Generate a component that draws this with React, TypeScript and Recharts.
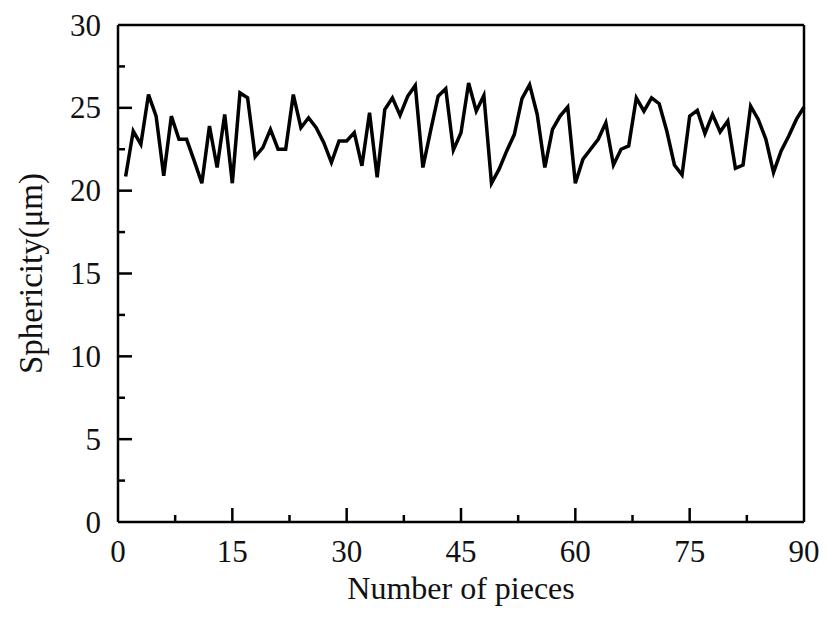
import { LineChart, Line, XAxis, YAxis, ReferenceLine } from 'recharts';

const sphericity = [
  20.85, 23.6, 22.8, 25.8, 24.5, 20.9, 24.5, 23.1, 23.1, 21.8,
  20.45, 23.9, 21.4, 24.6, 20.45, 25.9, 25.6, 22.05, 22.6, 23.7,
  22.5, 22.5, 25.8, 23.8, 24.4, 23.8, 22.9, 21.7, 23.0, 23.0,
  23.5, 21.5, 24.7, 20.8, 24.9, 25.6, 24.55, 25.7, 26.35, 21.4,
  23.6, 25.7, 26.15, 22.45, 23.5, 26.5, 24.8, 25.75, 20.45, 21.3,
  22.4, 23.4, 25.55, 26.4, 24.6, 21.4, 23.7, 24.5, 25.05, 20.45,
  21.9, 22.5, 23.1, 24.1, 21.55, 22.5, 22.7, 25.6, 24.8, 25.6,
  25.25, 23.6, 21.55, 20.95, 24.5, 24.85, 23.45, 24.6, 23.55, 24.2,
  21.35, 21.55, 25.1, 24.3, 23.1, 21.1, 22.4, 23.3, 24.3, 25.05,
];

const xTicks = [0, 7.5, 15, 22.5, 30, 37.5, 45, 52.5, 60, 67.5, 75, 82.5, 90];
const yTicks = [0, 2.5, 5, 7.5, 10, 12.5, 15, 17.5, 20, 22.5, 25, 27.5, 30];

const data = sphericity.map((v, i) => ({ piece: i + 1, value: v }));

const FONT = '"Liberation Serif", "Times New Roman", serif';

// ticks point into the plot, only majors get a label
function XTick(props: any) {
  const { x, y, payload } = props;
  const major = payload.value % 15 === 0;
  return (
    <g>
      {payload.value !== 0 && payload.value !== 90 && (
        <line x1={x} y1={y} x2={x} y2={y - (major ? 14 : 7)} stroke="#000" strokeWidth={2.5} />
      )}
      {major && (
        <text x={x} y={y + 29} textAnchor="middle" dominantBaseline="central" fontSize={31} fontFamily={FONT} fill="#111">
          {payload.value}
        </text>
      )}
    </g>
  );
}

function YTick(props: any) {
  const { x, y, payload } = props;
  const major = payload.value % 5 === 0;
  return (
    <g>
      {payload.value !== 0 && payload.value !== 30 && (
        <line x1={x} y1={y} x2={x + (major ? 14 : 7)} y2={y} stroke="#000" strokeWidth={2.5} />
      )}
      {major && (
        <text x={x - 17} y={y} textAnchor="end" dominantBaseline="central" fontSize={31} fontFamily={FONT} fill="#111">
          {payload.value}
        </text>
      )}
    </g>
  );
}

export default function App() {
  return (
    <div style={{ position: 'absolute', left: 0, top: 0, background: '#fff' }}>
      <LineChart width={827} height={619} data={data} margin={{ top: 25, right: 23, left: 0, bottom: 0 }}>
        <XAxis
          dataKey="piece"
          type="number"
          domain={[0, 90]}
          ticks={xTicks}
          interval={0}
          tickSize={0}
          tickMargin={0}
          tickLine={false}
          tick={<XTick />}
          height={97}
          axisLine={{ stroke: '#000', strokeWidth: 2.5 }}
          label={{ value: 'Number of pieces', position: 'insideBottom', offset: 20, fontSize: 32, fontFamily: FONT, fill: '#111' }}
        />
        <YAxis
          type="number"
          domain={[0, 30]}
          ticks={yTicks}
          interval={0}
          tickSize={0}
          tickMargin={0}
          tickLine={false}
          tick={<YTick />}
          width={118}
          axisLine={{ stroke: '#000', strokeWidth: 2.5 }}
          label={{ value: 'Sphericity(μm)', angle: -90, position: 'insideLeft', offset: 30, fontSize: 33, fontFamily: FONT, fill: '#111', style: { textAnchor: 'middle' } }}
        />
        <ReferenceLine y={30} stroke="#000" strokeWidth={2.5} />
        <ReferenceLine x={90} stroke="#000" strokeWidth={2.5} />
        <Line type="linear" dataKey="value" stroke="#000" strokeWidth={3.5} dot={false} isAnimationActive={false} />
      </LineChart>
    </div>
  );
}
